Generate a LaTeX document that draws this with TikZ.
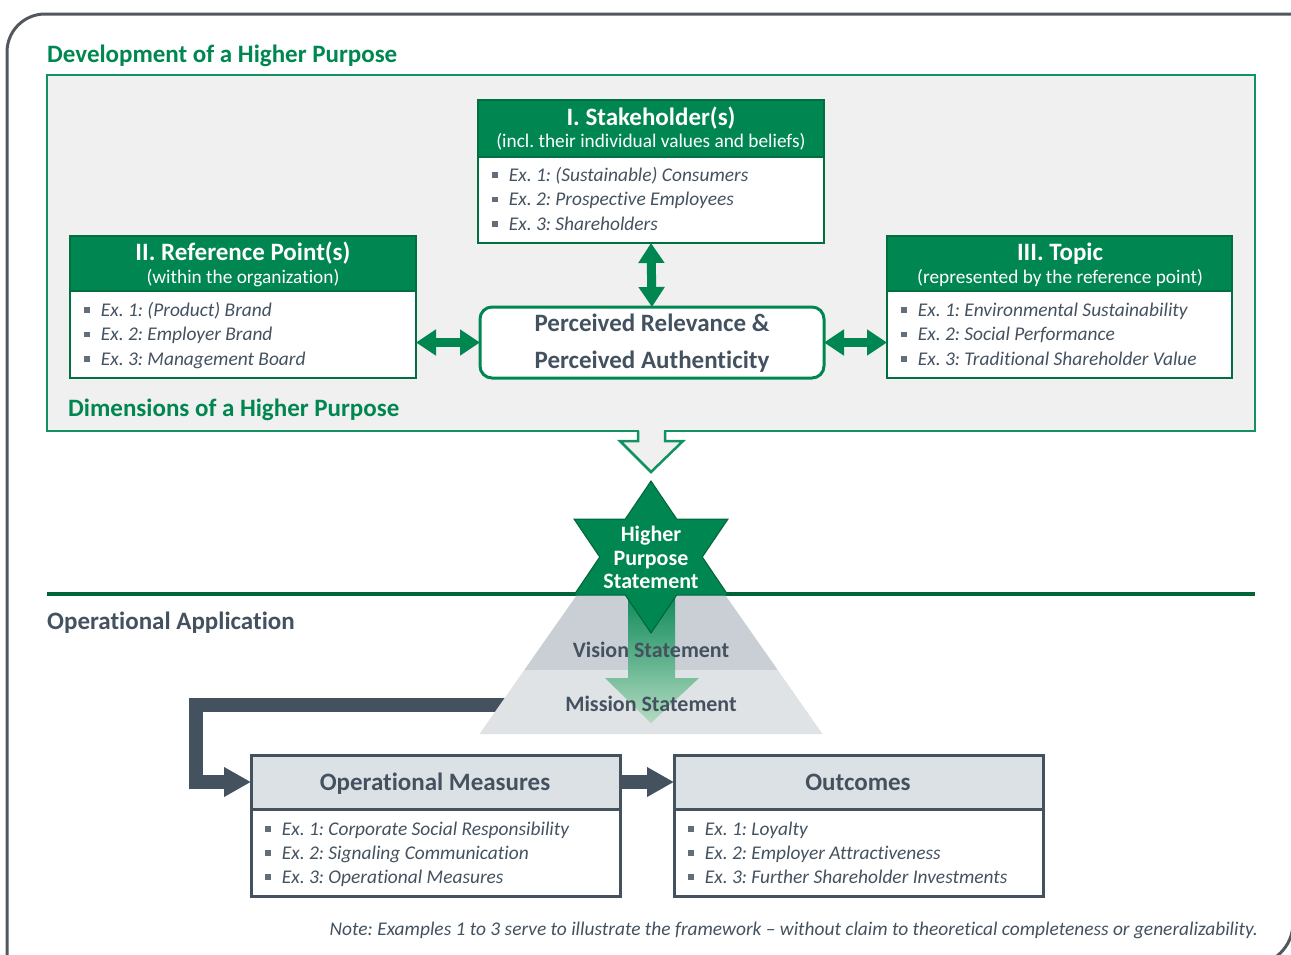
\documentclass[tikz,border=0pt]{standalone}
\usepackage{fontspec}
\setmainfont{Carlito}[Ligatures=NoCommon]
\usetikzlibrary{arrows.meta,calc}
\definecolor{hpgreen}{RGB}{0,134,80}
\definecolor{boxgreen}{RGB}{0,112,64}
\definecolor{panelgreen}{RGB}{18,146,96}
\definecolor{hpdark}{RGB}{0,100,56}
\definecolor{panelgray}{RGB}{240,240,240}
\definecolor{slate}{RGB}{68,82,96}
\definecolor{framegray}{RGB}{82,88,94}
\definecolor{hdrgray}{RGB}{220,225,229}
\definecolor{pyrtop}{RGB}{201,207,212}
\definecolor{pyrbot}{RGB}{223,227,230}
\definecolor{bulgray}{RGB}{100,110,120}
\definecolor{lightgreen}{RGB}{175,218,190}
\newcommand\bul{\textcolor{bulgray}{\rule[0.18em]{0.28em}{0.28em}}\hspace{0.58em}}
\newcommand\fs[1]{\fontsize{#1}{#1}\selectfont}
\frenchspacing
\tikzset{
 sect/.style={anchor=base west, inner sep=0pt, font=\fs{25}\bfseries, text=hpgreen},
 gbox/.style={draw=boxgreen, line width=2.5pt, fill=white, anchor=north west, inner sep=0pt, outer sep=0pt},
 ghead/.style={fill=hpgreen, draw=boxgreen, line width=2.5pt, anchor=north west, inner sep=0pt, outer sep=0pt},
 sbox/.style={draw=slate, line width=3pt, fill=white, anchor=north west, inner sep=0pt, outer sep=0pt},
 shead/.style={fill=hdrgray, draw=slate, line width=3pt, anchor=north west, inner sep=0pt, outer sep=0pt},
 gtitle/.style={anchor=base, inner sep=0pt, text=white, font=\fs{25}\bfseries},
 gsub/.style={anchor=base, inner sep=0pt, text=white, font=\fs{19.3}},
 stitle/.style={anchor=base, inner sep=0pt, text=slate, font=\fs{25}\bfseries},
 item/.style={anchor=base west, inner sep=0pt, text=slate, font=\fs{19.4}\itshape},
 ctext/.style={anchor=base, inner sep=0pt, text=slate, font=\fs{25}\bfseries},
 pyrtext/.style={anchor=base, inner sep=0pt, text=slate, font=\fs{22}\bfseries},
 startext/.style={anchor=base, inner sep=0pt, text=white, font=\fs{22}\bfseries},
 dbl/.style={hpgreen, line width=9pt, {Triangle[length=20pt,width=25pt]}-{Triangle[length=20pt,width=25pt]}},
 slatearrow/.style={slate, line width=14pt, line join=miter, -{Triangle[length=27pt,width=28pt]}},
}
\begin{document}
\begin{tikzpicture}[x=1pt,y=-1pt]
\useasboundingbox[fill=white] (0,0) rectangle (1291,954);
% outer frame
\draw[framegray, line width=3pt, rounded corners=38pt] (7,1000) -- (7,14) -- (1330,14);
\draw[framegray, line width=3pt, rounded corners=42pt] (1293,850) -- (1293,965) -- (1200,965);

% upper section
\node[sect] (devtitle) at (47,62) {Development of a Higher Purpose};
\node[draw=panelgreen, fill=panelgray, line width=2.5pt, anchor=north west, inner sep=0pt, outer sep=0pt, minimum width=1208pt, minimum height=356pt] (panel) at (47,75) {};

% stakeholder box
\node[gbox, minimum width=346pt, minimum height=143pt] (stake) at (478,100) {};
\node[ghead, minimum width=346pt, minimum height=57pt] (stakeh) at (478,100) {};
\node[gtitle] (staket) at (651,125) {I. Stakeholder(s)};
\node[gsub] (stakes) at (651,147) {(incl. their individual values and beliefs)};
\node[item] (s1) at (492,181) {\bul Ex. 1: (Sustainable) Consumers};
\node[item] (s2) at (492,205.5) {\bul Ex. 2: Prospective Employees};
\node[item] (s3) at (492,230) {\bul Ex. 3: Shareholders};

% reference box
\node[gbox, minimum width=346pt, minimum height=142pt] (ref) at (70,236) {};
\node[ghead, minimum width=346pt, minimum height=55pt] (refh) at (70,236) {};
\node[gtitle] (reft) at (243,260) {II. Reference Point(s)};
\node[gsub] (refs) at (243,283) {(within the organization)};
\node[item] (r1) at (84,316) {\bul Ex. 1: (Product) Brand};
\node[item] (r2) at (84,340.5) {\bul Ex. 2: Employer Brand};
\node[item] (r3) at (84,365) {\bul Ex. 3: Management Board};

% topic box
\node[gbox, minimum width=345pt, minimum height=142pt] (topic) at (887,236) {};
\node[ghead, minimum width=345pt, minimum height=55pt] (topich) at (887,236) {};
\node[gtitle] (topict) at (1060,260) {III. Topic};
\node[gsub] (topics) at (1060,283) {(represented by the reference point)};
\node[item] (t1) at (901,316) {\bul Ex. 1: Environmental Sustainability};
\node[item] (t2) at (901,340.5) {\bul Ex. 2: Social Performance};
\node[item] (t3) at (901,365) {\bul Ex. 3: Traditional Shareholder Value};

% center box
\node[draw=hpgreen, line width=3pt, fill=white, rounded corners=12pt, anchor=north west, inner sep=0pt, outer sep=0pt, minimum width=344pt, minimum height=71pt] (center) at (480,307) {};
\node[ctext] (c1) at (652,331) {Perceived Relevance \&};
\node[ctext] (c2) at (652,368) {Perceived Authenticity};

% green double arrows
\draw[dbl] (stake.south) -- (center.north);
\draw[dbl] (center.west -| ref.east) -- (center.west);
\draw[dbl] (center.east) -- (center.east -| topic.west);

\node[sect] (dimtitle) at (68,416) {Dimensions of a Higher Purpose};

% hollow arrow out of panel
\fill[panelgray] (639.2,427) rectangle (663.8,442);
\filldraw[panelgreen, fill=panelgray, line width=2.5pt, line join=miter] (638,431) -- (638,441) -- (620,441) -- (651,472) -- (683,441) -- (665,441) -- (665,431);

% separator line
\draw[hpdark, line width=4pt] (47,594) -- (1255,594);
\node[anchor=base west, inner sep=0pt, font=\fs{25}\bfseries, text=slate] (optitle) at (47,629) {Operational Application};

% bottom boxes
\node[sbox, minimum width=369pt, minimum height=141pt] (opm) at (251,755) {};
\node[shead, minimum width=369pt, minimum height=54pt] (opmh) at (251,755) {};
\node[stitle] (opmt) at (435,790) {Operational Measures};
\node[item] (o1) at (265,835) {\bul Ex. 1: Corporate Social Responsibility};
\node[item] (o2) at (265,859) {\bul Ex. 2: Signaling Communication};
\node[item] (o3) at (265,883) {\bul Ex. 3: Operational Measures};

\node[sbox, minimum width=369pt, minimum height=141pt] (out) at (674,755) {};
\node[shead, minimum width=369pt, minimum height=54pt] (outh) at (674,755) {};
\node[stitle] (outt) at (858,790) {Outcomes};
\node[item] (u1) at (688,835) {\bul Ex. 1: Loyalty};
\node[item] (u2) at (688,859) {\bul Ex. 2: Employer Attractiveness};
\node[item] (u3) at (688,883) {\bul Ex. 3: Further Shareholder Investments};

% slate arrows
\coordinate (pyrL) at (540,704.5);
\draw[slatearrow] (pyrL) -- (196,704.5) |- (opmh.west);
\draw[slatearrow] (opmh.east) -- (outh.west);

% pyramid
\fill[pyrtop] (577.5,594) -- (724.5,594) -- (777.7,670) -- (524.3,670) -- cycle;
\fill[pyrbot] (524.3,670) -- (777.7,670) -- (822.5,734) -- (479.5,734) -- cycle;

% gradient arrow
\shade[top color=hpgreen, bottom color=lightgreen, opacity=0.92] (628,596) -- (675,596) -- (675,678) -- (699,678) -- (651,723) -- (605,678) -- (628,678) -- cycle;

% star
\filldraw[fill=hpgreen, draw=hpdark, line width=1pt, line join=miter]
 (651,481) -- (676.7,519) -- (728,519) -- (702.3,557) -- (728,595) -- (676.7,595) -- (651,633)
 -- (625.3,595) -- (574,595) -- (599.7,557) -- (574,519) -- (625.3,519) -- cycle;
\node[startext] (star) at (651,541) {Higher};
\node[startext] (star2) at (651,565) {Purpose};
\node[startext] (star3) at (651,588) {Statement};

\node[pyrtext] (vision) at (651,657) {Vision Statement};
\node[pyrtext] (mission) at (651,711.5) {Mission Statement};

% note
\node[anchor=base east, inner sep=0pt, text=slate, font=\fs{19.4}\itshape] (note) at (1258,935) {Note: Examples 1 to 3 serve to illustrate the framework -- without claim to theoretical completeness or generalizability.};
\end{tikzpicture}
\end{document}
